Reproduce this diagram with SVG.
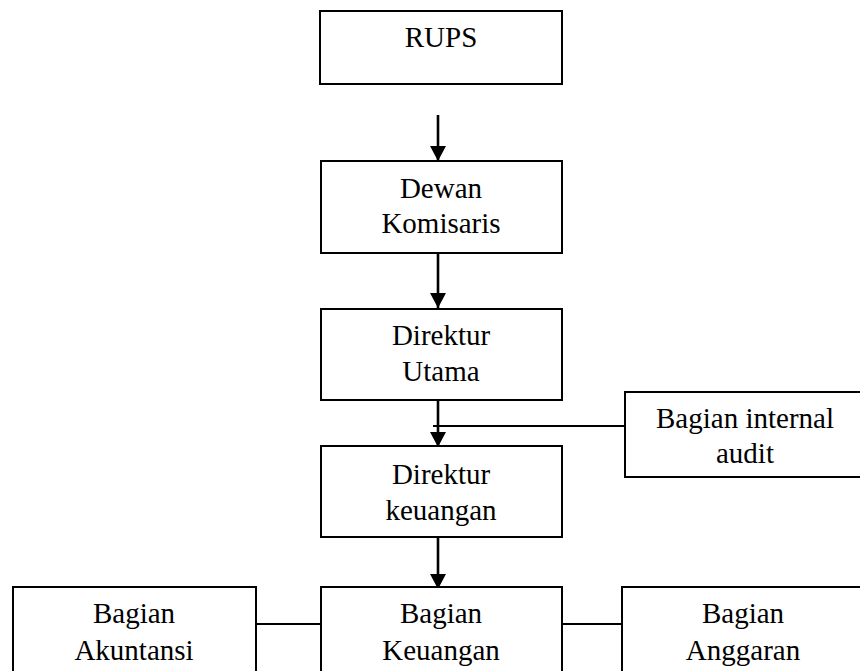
<svg xmlns="http://www.w3.org/2000/svg" width="860" height="671" viewBox="0 0 860 671">
<style>
.box{fill:#fff;stroke:#000;stroke-width:2}
.t{font-family:"Liberation Serif","Times New Roman",serif;font-size:29px;fill:#000;text-anchor:middle}
.arr{stroke:#000;stroke-width:2.6;fill:none}
.ln{stroke:#000;stroke-width:2;fill:none}
</style>
<defs>
<marker id="ah" markerUnits="userSpaceOnUse" markerWidth="16" markerHeight="16" viewBox="0 0 16 16" refX="15" refY="8" orient="auto">
<path d="M0,0 L15,8 L0,16 Z" fill="#000"/>
</marker>
</defs>
<rect width="860" height="671" fill="#fff"/>
<g id="connectors">
<line class="arr" x1="438" y1="115" x2="438" y2="161" marker-end="url(#ah)"/>
<line class="arr" x1="438" y1="253" x2="438" y2="308" marker-end="url(#ah)"/>
<line class="arr" x1="438" y1="400" x2="438" y2="447" marker-end="url(#ah)"/>
<line class="ln" x1="433" y1="426" x2="625" y2="426"/>
<line class="arr" x1="438" y1="537" x2="438" y2="589" marker-end="url(#ah)"/>
<line class="ln" x1="256" y1="624" x2="321" y2="624"/>
<line class="ln" x1="558" y1="624" x2="626" y2="624"/>
</g>
<g id="rups">
<rect class="box" x="320" y="11" width="242" height="73"/>
<text class="t" x="441" y="47">RUPS</text>
</g>
<g id="dewan-komisaris">
<rect class="box" x="321" y="161" width="241" height="92"/>
<text class="t" x="441" y="198">Dewan</text>
<text class="t" x="441" y="233">Komisaris</text>
</g>
<g id="direktur-utama">
<rect class="box" x="321" y="309" width="241" height="91"/>
<text class="t" x="441" y="345">Direktur</text>
<text class="t" x="441" y="381">Utama</text>
</g>
<g id="bagian-internal-audit">
<rect class="box" x="625" y="392" width="240" height="85"/>
<text class="t" x="745" y="428">Bagian internal</text>
<text class="t" x="745" y="463">audit</text>
</g>
<g id="direktur-keuangan">
<rect class="box" x="321" y="446" width="241" height="91"/>
<text class="t" x="441" y="484">Direktur</text>
<text class="t" x="441" y="520">keuangan</text>
</g>
<g id="bagian-akuntansi">
<rect class="box" x="13" y="587" width="243" height="100"/>
<text class="t" x="134" y="623">Bagian</text>
<text class="t" x="134" y="660">Akuntansi</text>
</g>
<g id="bagian-keuangan">
<rect class="box" x="321" y="587" width="241" height="100"/>
<text class="t" x="441" y="623">Bagian</text>
<text class="t" x="441" y="660">Keuangan</text>
</g>
<g id="bagian-anggaran">
<rect class="box" x="622" y="587" width="243" height="100"/>
<text class="t" x="743" y="623">Bagian</text>
<text class="t" x="743" y="660">Anggaran</text>
</g>
</svg>
